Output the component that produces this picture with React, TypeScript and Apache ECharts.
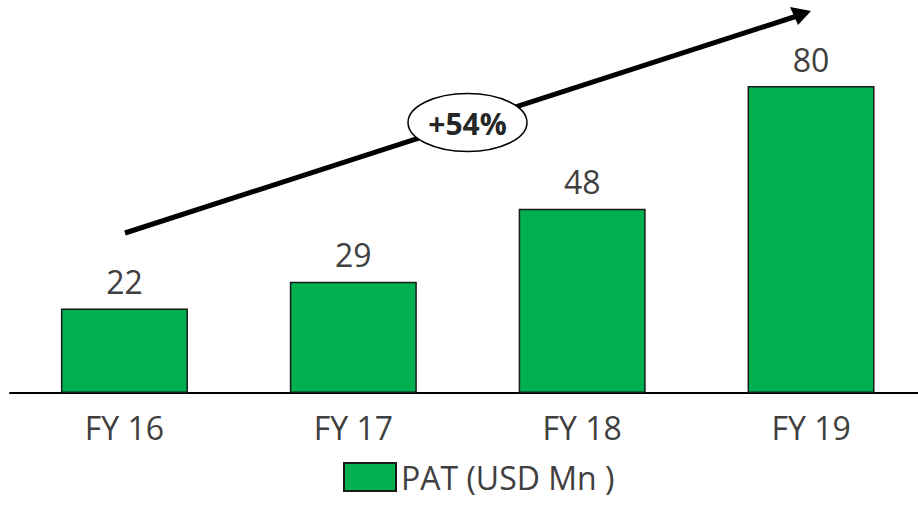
import React, { useEffect, useRef } from "react";
import * as echarts from "echarts";

const categories = ["FY 16", "FY 17", "FY 18", "FY 19"];
const patValues = [22, 29, 48, 80];
const seriesName = "PAT (USD Mn )";
const growthLabel = "+54%";

export default function App() {
  const ref = useRef<HTMLDivElement>(null);
  useEffect(() => {
    if (!ref.current) return;
    const chart = echarts.init(ref.current, null, { renderer: "svg" });
    const font = "'Open Sans', sans-serif";
    chart.setOption({
      animation: false,
      backgroundColor: "#ffffff",
      grid: {
        left: 10,
        width: 915.5,
        top: 9.25,
        bottom: 112,
        containLabel: false,
        outerBoundsMode: "none",
      },
      legend: {
        data: [seriesName],
        top: 461,
        left: 343,
        padding: 0,
        itemWidth: 52,
        itemHeight: 28,
        itemGap: 10,
        icon: "rect",
        textStyle: { fontFamily: font, fontSize: 32, color: "#404040", padding: [0, 0, 0, 0] },
      },
      xAxis: {
        type: "category",
        data: categories,
        axisLine: { lineStyle: { color: "#000000", width: 2 } },
        axisTick: { show: false },
        axisLabel: { fontFamily: font, fontSize: 32, color: "#404040", margin: 18 },
      },
      yAxis: {
        type: "value",
        min: 0,
        max: 100,
        show: false,
        splitLine: { show: false },
      },
      series: [
        {
          name: seriesName,
          type: "bar",
          data: patValues,
          barWidth: "55.5%",
          itemStyle: { color: "#00B050", borderColor: "#1a1a1a", borderWidth: 1.5 },
          label: {
            show: true,
            position: "top",
            distance: 11,
            fontFamily: font,
            fontSize: 32,
            color: "#404040",
          },
        },
      ],
      graphic: [
        {
          type: "line",
          shape: { x1: 125, y1: 233, x2: 797, y2: 16 },
          style: { stroke: "#000000", lineWidth: 5 },
          z: 10,
        },
        {
          type: "polygon",
          shape: { points: [[811, 11], [790, 7], [798, 25]] },
          style: { fill: "#000000" },
          z: 10,
        },
        {
          type: "ellipse",
          shape: { cx: 467.5, cy: 122.5, rx: 59.5, ry: 29 },
          style: { fill: "#ffffff", stroke: "#000000", lineWidth: 1.5 },
          z: 11,
        },
        {
          type: "text",
          x: 467.5,
          y: 123,
          style: {
            text: growthLabel,
            fontFamily: font,
            fontWeight: "bold",
            fontSize: 30,
            fill: "#262626",
            align: "center",
            verticalAlign: "middle",
          },
          z: 12,
        },
      ],
    });
    return () => chart.dispose();
  }, []);
  return (
    <div
      ref={ref}
      style={{ position: "fixed", left: 0, top: 0, width: 918, height: 505 }}
    />
  );
}
